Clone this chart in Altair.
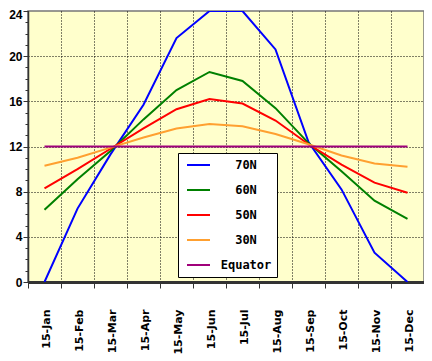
import altair as alt
import pandas as pd

months = ["15-Jan", "15-Feb", "15-Mar", "15-Apr", "15-May", "15-Jun",
          "15-Jul", "15-Aug", "15-Sep", "15-Oct", "15-Nov", "15-Dec"]
series_names = ["70N", "60N", "50N", "30N", "Equator"]
colors = ["#0000FF", "#008000", "#FF0000", "#FFA030", "#A0007A"]

lat70 = [0.0, 6.5, 11.3, 15.7, 21.6, 24.0, 24.0, 20.6, 12.4, 8.2, 2.6, 0.0]
lat60 = [6.4, 9.1, 11.6, 14.4, 17.0, 18.6, 17.8, 15.4, 12.3, 9.8, 7.2, 5.6]
lat50 = [8.3, 10.0, 11.8, 13.6, 15.3, 16.2, 15.8, 14.3, 12.2, 10.4, 8.8, 7.9]
lat30 = [10.3, 11.0, 11.9, 12.8, 13.6, 14.0, 13.8, 13.1, 12.2, 11.2, 10.5, 10.2]
equator = [12.0] * 12

rows = []
for name, vals in zip(series_names, [lat70, lat60, lat50, lat30, equator]):
    for m, v in zip(months, vals):
        rows.append({"month": m, "series": name, "hours": v})
df = pd.DataFrame(rows)

lines = alt.Chart(df).mark_line(strokeWidth=2, clip=True).encode(
    x=alt.X("month:N", sort=months, bandPosition=0.5,
            scale=alt.Scale(type="band", paddingInner=0, paddingOuter=0),
            axis=alt.Axis(title=None, labelAngle=-90, labelAlign="right",
                          labelBaseline="middle", labelPadding=21,
                          labelOffset=2,
                          labelFont="DejaVu Sans", labelFontSize=11,
                          labelFontWeight="bold", labelColor="black",
                          tickBand="extent", tickExtra=True, tickSize=6,
                          tickColor="#333333", domainColor="#333333",
                          domainWidth=3, grid=True, gridColor="black",
                          gridDash=[1, 2], gridWidth=1)),
    y=alt.Y("hours:Q",
            scale=alt.Scale(domain=[0, 24], nice=False),
            axis=alt.Axis(title=None, values=list(range(0, 25)),
                          labelExpr="datum.value % 4 == 0 ? datum.label : ''",
                          labelFont="Liberation Sans", labelFontSize=12,
                          labelFontWeight="bold", labelColor="black",
                          labelPadding=1,
                          labelOffset={"condition": {"test": "datum.value == 24", "value": 3}, "value": 0},
                          tickSize={"condition": {"test": "datum.value % 4 == 0", "value": 5}, "value": 3},
                          tickColor="#333333", domainColor="#333333",
                          domainWidth=1.5,
                          grid=True, gridColor="black", gridDash=[1, 2],
                          gridOpacity={"condition": {"test": "datum.value % 4 == 0 && datum.value > 0 && datum.value < 24", "value": 1}, "value": 0})),
    color=alt.Color("series:N",
                    scale=alt.Scale(domain=series_names, range=colors),
                    legend=alt.Legend(title=None, orient="none",
                                      legendX=150, legendY=142,
                                      fillColor="white", strokeColor="black",
                                      padding=5, symbolType="stroke",
                                      symbolSize=529, symbolStrokeWidth=2,
                                      symbolOffset=3, clipHeight=14,
                                      labelFont="DejaVu Sans Mono",
                                      labelFontSize=12, labelFontWeight="bold",
                                      labelColor="black", labelAlign="center",
                                      labelOffset=35, rowPadding=11,
                                      labelLimit=200,
                                      labelBaseline="middle")),
)

chart = lines.properties(
    width=396, height=271,
    autosize=alt.AutoSizeParams(type="none"),
    padding={"left": 20, "top": 3, "right": 0, "bottom": 75},
    background="white",
).configure_view(
    fill="#FFFFCC", stroke="#777777", strokeWidth=1.5
)

chart.save("out.html", embed_options={"renderer": "svg", "actions": False})
